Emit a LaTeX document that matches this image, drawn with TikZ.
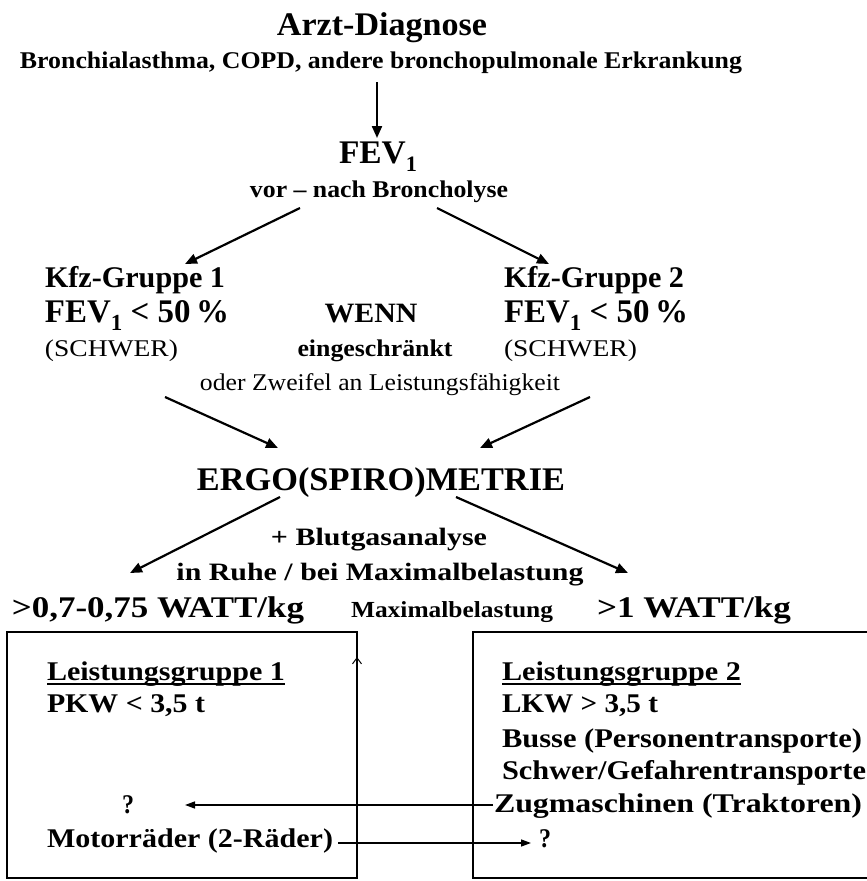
\documentclass[tikz,border=0pt]{standalone}
\usepackage{fontspec}
\setmainfont{Liberation Serif}
\usepackage{graphicx}
\usetikzlibrary{arrows.meta}
\newcommand{\fw}[3]{\resizebox{#1pt}{\height}{\fontsize{#2}{#2}\selectfont #3}}
\newcommand{\subone}[1]{\raisebox{-0.25em}{\fontsize{#1}{#1}\selectfont 1}}
\begin{document}
\begin{tikzpicture}[x=1pt,y=-1pt,
  txt/.style={inner sep=0pt,outer sep=0pt,anchor=base},
  ltxt/.style={inner sep=0pt,outer sep=0pt,anchor=base west},
  bigarrow/.style={line width=2.2pt,-{Triangle[length=12pt,width=10pt]}},
  boxarrow/.style={line width=1.4pt,-{Triangle[length=10pt,width=7pt]}},
  frame/.style={draw,line width=1.1pt},
  uline/.style={line width=2.6pt}]
\useasboundingbox (0,0) rectangle (867,881);
% header
\node[txt,font=\bfseries] (arzt) at (382,35) {\fw{210}{33}{Arzt-Diagnose}};
\node[txt,font=\bfseries] (bron) at (381,68) {\fw{722}{24}{Bronchialasthma, COPD, andere bronchopulmonale Erkrankung}};
\node[txt,font=\bfseries] (fev) at (378,163) {\fw{78}{33}{FEV\subone{22}}};
\node[txt,font=\bfseries] (vor) at (379,197) {\fw{258}{24}{vor – nach Broncholyse}};
\coordinate (a1s) at (377,82);
\coordinate (a1e) at (377,138);
\draw[bigarrow] (a1s) -- (a1e);
\coordinate (a2s) at (300,208);
\coordinate (a2e) at (185,264);
\coordinate (a3s) at (437,208);
\coordinate (a3e) at (549,264);
\draw[bigarrow] (a2s) -- (a2e);
\draw[bigarrow] (a3s) -- (a3e);
% Kfz groups
\node[ltxt,font=\bfseries] (k1) at (45,287) {\fw{180}{30}{Kfz-Gruppe 1}};
\node[ltxt,font=\bfseries] (f1) at (45,322) {\fw{184}{33}{FEV\subone{23} < 50\,\%}};
\node[ltxt] (s1) at (45,356) {\fw{133}{24}{(SCHWER)}};
\node[ltxt,font=\bfseries] (k2) at (504,287) {\fw{180}{30}{Kfz-Gruppe 2}};
\node[ltxt,font=\bfseries] (f2) at (504,322) {\fw{184}{33}{FEV\subone{23} < 50\,\%}};
\node[ltxt] (s2) at (504,356) {\fw{133}{24}{(SCHWER)}};
\node[txt,font=\bfseries] (wenn) at (371,322) {\fw{93}{28}{WENN}};
\node[txt,font=\bfseries] (eing) at (375,356) {\fw{155}{24}{eingeschränkt}};
\node[txt] (oder) at (380,390) {\fw{360}{24}{oder Zweifel an Leistungsfähigkeit}};
\coordinate (a4s) at (165,397);
\coordinate (a4e) at (278,448);
\coordinate (a5s) at (590,397);
\coordinate (a5e) at (480,448);
\draw[bigarrow] (a4s) -- (a4e);
\draw[bigarrow] (a5s) -- (a5e);
% Ergo
\node[txt,font=\bfseries] (ergo) at (381,490) {\fw{368}{33}{ERGO(SPIRO)METRIE}};
\coordinate (a6s) at (280,497);
\coordinate (a6e) at (130,573);
\coordinate (a7s) at (456,497);
\coordinate (a7e) at (628,573);
\draw[bigarrow] (a6s) -- (a6e);
\draw[bigarrow] (a7s) -- (a7e);
\node[txt,font=\bfseries] (blut) at (379,545) {\fw{216}{25}{+ Blutgasanalyse}};
\node[txt,font=\bfseries] (ruhe) at (380,580) {\fw{407}{25}{in Ruhe / bei Maximalbelastung}};
\node[ltxt,font=\bfseries] (w1) at (12,617) {\fw{292}{30}{>0,7-0,75 WATT/kg}};
\node[ltxt,font=\bfseries] (maxb) at (351,617) {\fw{202}{23}{Maximalbelastung}};
\node[ltxt,font=\bfseries] (w2) at (597,617) {\fw{194}{30}{>1 WATT/kg}};
% boxes
\coordinate (b1a) at (7,632);
\coordinate (b1b) at (357,878);
\coordinate (b2a) at (473,632);
\coordinate (b2b) at (869,878);
\draw[frame] (b1a) rectangle (b1b);
\draw[frame] (b2a) rectangle (b2b);
\coordinate (upt) at (357,657);
\draw[line width=1pt,-{Straight Barb[length=6pt,width=9pt]}] (b1b) -- (upt);
% left box content
\node[ltxt,font=\bfseries] (lg1) at (47,680) {\fw{238}{27}{Leistungsgruppe 1}};
\draw[uline] ([yshift=-4pt]lg1.base west) -- ([yshift=-4pt]lg1.base east);
\node[ltxt,font=\bfseries] (pkw) at (47,712) {\fw{158}{27}{PKW < 3,5 t}};
\node[txt,font=\bfseries] (q1) at (128,813) {\fw{12}{27}{?}};
\node[ltxt,font=\bfseries] (moto) at (47,847) {\fw{286}{27}{Motorräder (2-Räder)}};
% right box content
\node[ltxt,font=\bfseries] (lg2) at (502,680) {\fw{239}{27}{Leistungsgruppe 2}};
\draw[uline] ([yshift=-4pt]lg2.base west) -- ([yshift=-4pt]lg2.base east);
\node[ltxt,font=\bfseries] (lkw) at (502,712) {\fw{156}{27}{LKW > 3,5 t}};
\node[ltxt,font=\bfseries] (bus) at (502,747) {\fw{360}{27}{Busse (Personentransporte)}};
\node[ltxt,font=\bfseries] (schw) at (502,779) {\fw{364}{27}{Schwer/Gefahrentransporte}};
\node[ltxt,font=\bfseries] (zug) at (494,812) {\fw{368}{27}{Zugmaschinen (Traktoren)}};
\node[txt,font=\bfseries] (q2) at (545,847) {\fw{12}{27}{?}};
\coordinate (zugw) at (493,805);
\coordinate (q1e) at (185,805);
\draw[boxarrow] (zugw) -- (q1e);
\coordinate (motoe) at (338,843);
\coordinate (q2w) at (531,843);
\draw[boxarrow] (motoe) -- (q2w);
\end{tikzpicture}
\end{document}
